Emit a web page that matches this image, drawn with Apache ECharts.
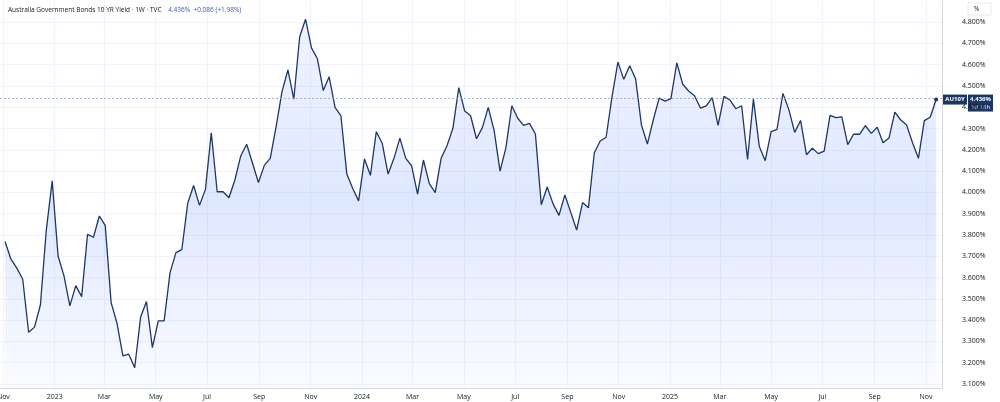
<!DOCTYPE html>
<html>
<head>
<meta charset="utf-8">
<script src="https://cdn.jsdelivr.net/npm/echarts@6/dist/echarts.min.js"></script>
<style>
  html, body { margin: 0; padding: 0; background: #fff; }
  #chart { width: 1000px; height: 402px; }
</style>
</head>
<body>
<div id="chart"></div>
<script>
"use strict";

// Weekly closes, AU10Y (%), oldest first.
const FIRST_WEEK = "2022-11-03";
const yields = [
  3.769, 3.686, 3.644, 3.592, 3.343, 3.367, 3.471, 3.823, 4.054, 3.701,
  3.608, 3.467, 3.562, 3.510, 3.803, 3.789, 3.889, 3.845, 3.482, 3.385,
  3.232, 3.240, 3.176, 3.413, 3.487, 3.271, 3.396, 3.396, 3.623, 3.717,
  3.731, 3.949, 4.032, 3.939, 4.014, 4.280, 4.003, 4.003, 3.975, 4.058,
  4.171, 4.226, 4.137,
  4.046, 4.127, 4.160, 4.309, 4.473, 4.575, 4.438, 4.731, 4.813, 4.679,
  4.628, 4.478, 4.543, 4.399, 4.359, 4.086, 4.018, 3.960, 4.157, 4.080,
  4.285, 4.231, 4.086, 4.160, 4.255, 4.160, 4.125, 3.992, 4.152, 4.041,
  3.999, 4.160, 4.219, 4.301, 4.492, 4.382, 4.360, 4.252, 4.304, 4.399,
  4.290, 4.100, 4.210, 4.407, 4.348, 4.315, 4.324, 4.274, 3.942, 4.025,
  3.946, 3.892, 3.988, 3.906, 3.823, 3.952, 3.928, 4.186, 4.241, 4.259,
  4.449, 4.612, 4.531, 4.595, 4.534, 4.316, 4.227, 4.340, 4.443, 4.429,
  4.440, 4.608, 4.508, 4.476, 4.454, 4.396, 4.406, 4.445, 4.315, 4.451,
  4.434,
  4.393, 4.407, 4.155, 4.438, 4.215, 4.149, 4.285, 4.296, 4.465, 4.390,
  4.282, 4.338, 4.177, 4.207, 4.182, 4.194, 4.362, 4.351, 4.355, 4.224,
  4.273, 4.273, 4.313, 4.277, 4.306, 4.233, 4.255, 4.377, 4.340, 4.316,
  4.233, 4.160, 4.337, 4.353, 4.436
];
const LAST = 4.436;
const HEADER = "Australia Government Bonds 10 YR Yield · 1W · TVC";
const HEADER_QUOTE = "4.436%  +0.086 (+1.98%)";
const MONTH_NAMES = ["Jan","Feb","Mar","Apr","May","Jun","Jul","Aug","Sep","Oct","Nov","Dec"];
const xTicks = [
  "2022-11-01", "2023-01-01", "2023-03-01", "2023-05-01", "2023-07-01", "2023-09-01",
  "2023-11-01", "2024-01-01", "2024-03-01", "2024-05-01", "2024-07-01", "2024-09-01",
  "2024-11-01", "2025-01-01", "2025-03-01", "2025-05-01", "2025-07-01", "2025-09-01",
  "2025-11-01"
].map((d) => +new Date(d + "T00:00:00Z"));
const yTicks = [3.1, 3.2, 3.3, 3.4, 3.5, 3.6, 3.7, 3.8, 3.9, 4.0,
                4.1, 4.2, 4.3, 4.4, 4.5, 4.6, 4.7, 4.8];

const WEEK = 7 * 86400000;
const t0 = +new Date(FIRST_WEEK + "T00:00:00Z");
const points = yields.map((v, i) => [t0 + i * WEEK, v]);

const INK = "#131722", NAVY = "#1c3766", GRID = "#f0f3fa", FONT = "'Open Sans', sans-serif";

const chart = echarts.init(document.getElementById("chart"), null, { renderer: "canvas" });
chart.setOption({
  animation: false,
  backgroundColor: "#fff",
  grid: { left: 0, right: 58, top: 1, bottom: 14, outerBoundsMode: "none", containLabel: false },
  xAxis: {
    type: "value",
    min: +new Date("2022-10-28T00:00:00Z"),
    max: +new Date("2025-11-20T00:00:00Z"),
    axisLine: { show: true, lineStyle: { color: "#d6d8dd" } },
    axisTick: { show: false, customValues: xTicks },
    splitLine: { show: true, lineStyle: { color: GRID } },
    axisLabel: {
      customValues: xTicks, color: INK, fontSize: 7, fontFamily: FONT, margin: 5,
      formatter: (v) => {
        const d = new Date(v);
        return d.getUTCMonth() === 0 ? String(d.getUTCFullYear()) : MONTH_NAMES[d.getUTCMonth()];
      },
    },
  },
  yAxis: {
    type: "value", position: "right",
    min: 3.081, max: 4.899,
    axisLine: { show: true, lineStyle: { color: "#d6d8dd" } },
    axisTick: { show: false, customValues: yTicks },
    splitLine: { show: true, lineStyle: { color: GRID } },
    axisLabel: {
      customValues: yTicks, color: INK, fontSize: 7, fontFamily: FONT, margin: 20,
      formatter: (v) => v.toFixed(3) + "%",
    },
  },
  series: [{
    type: "line", data: points, symbol: "none",
    lineStyle: { color: NAVY, width: 1.3 },
    areaStyle: {
      origin: "start",
      color: new echarts.graphic.LinearGradient(0, 0, 0, 1, [
        { offset: 0, color: "rgba(41,98,255,0.10)" },
        { offset: 0.5, color: "rgba(41,98,255,0.21)" },
        { offset: 1, color: "rgba(41,98,255,0.03)" },
      ]),
    },
    markLine: {
      symbol: "none", silent: true, label: { show: false },
      lineStyle: { color: "#8ea3c6", type: [2, 2], width: 0.8 },
      data: [{ yAxis: LAST }],
    },
    markPoint: {
      symbol: "circle", symbolSize: 4, label: { show: false },
      itemStyle: { color: NAVY },
      data: [{ coord: points[points.length - 1] }],
    },
  }],
});

// Header, price tags and the "%" box, placed on the drawn scales.
const [, ly] = chart.convertToPixel({ gridIndex: 0 }, points[points.length - 1]);
chart.setOption({
  graphic: [
    { type: "text", left: 8, top: 4, style: {
        text: "{a|" + HEADER + "}  {b|" + HEADER_QUOTE + "}",
        rich: {
          a: { fill: INK, font: "6.5px " + FONT },
          b: { fill: "#2e5bbd", font: "6.5px " + FONT },
        } } },
    { type: "rect", shape: { x: 943, y: ly - 5, width: 24, height: 10 }, style: { fill: NAVY } },
    { type: "text", x: 955, y: ly, style: { text: "AU10Y", fill: "#fff", font: "bold 6px " + FONT, align: "center", verticalAlign: "middle" } },
    { type: "rect", shape: { x: 968, y: ly - 5, width: 25, height: 17 }, style: { fill: NAVY } },
    { type: "text", x: 980.5, y: ly, style: { text: "4.436%", fill: "#fff", font: "bold 6px " + FONT, align: "center", verticalAlign: "middle" } },
    { type: "text", x: 980.5, y: ly + 7.5, style: { text: "1d 18h", fill: "#fff", font: "6px " + FONT, align: "center", verticalAlign: "middle" } },
    { type: "rect", shape: { x: 968, y: 3, width: 23, height: 12 }, style: { fill: "#fff", stroke: "#e0e3eb", lineWidth: 0.8 } },
    { type: "text", x: 974, y: 9, style: { text: "%", fill: INK, font: "6.5px " + FONT, verticalAlign: "middle" } },
  ],
});
</script>
</body>
</html>
